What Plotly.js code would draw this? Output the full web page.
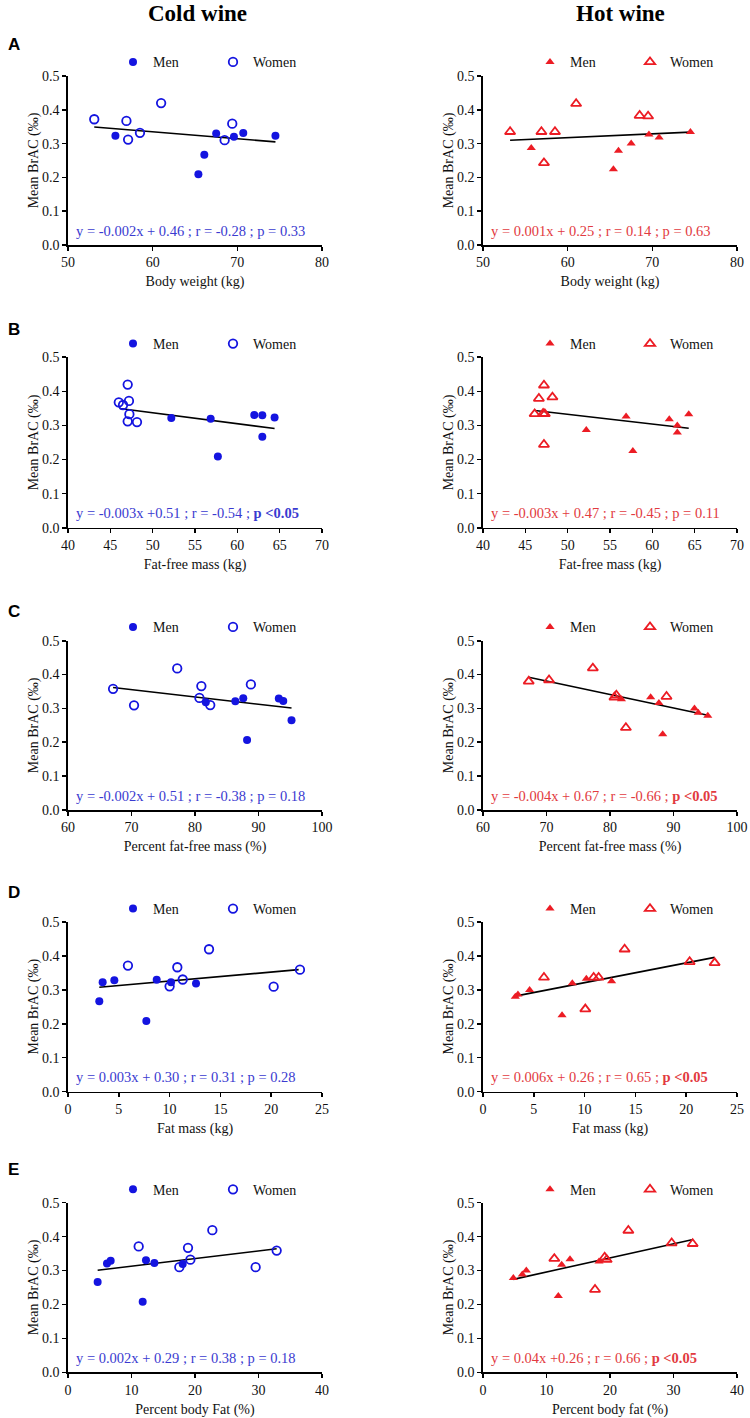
<!DOCTYPE html>
<html>
<head>
<meta charset="utf-8">
<script src="https://cdn.plot.ly/plotly-3.0.1.min.js"></script>
<style>html,body{margin:0;padding:0;background:#fff;} #chart{width:750px;height:1418px;}</style>
</head>
<body>
<div id="chart"></div>
<script>
// ---------- DATA ----------
// Panel A: body weight (kg)
const A_cold_men_x = [55.6, 65.4, 66.1, 67.5, 69.6, 70.7, 74.5];
const A_cold_men_y = [0.323, 0.209, 0.267, 0.330, 0.320, 0.331, 0.323];
const A_cold_wom_x = [53.1, 56.9, 57.1, 58.5, 61.0, 68.5, 69.4];
const A_cold_wom_y = [0.372, 0.367, 0.312, 0.332, 0.420, 0.310, 0.359];
const A_cold_fit_x = [53.1, 74.5];
const A_cold_fit_y = [0.349, 0.305];
const A_hot_men_x = [55.7, 65.4, 66.0, 67.5, 69.6, 70.8, 74.5];
const A_hot_men_y = [0.287, 0.224, 0.279, 0.300, 0.327, 0.318, 0.334];
const A_hot_wom_x = [53.2, 56.9, 57.2, 58.5, 61.0, 68.5, 69.5];
const A_hot_wom_y = [0.335, 0.335, 0.243, 0.335, 0.418, 0.383, 0.381];
const A_hot_fit_x = [53.2, 74.5];
const A_hot_fit_y = [0.310, 0.334];

// Panel B: fat-free mass (kg)
const B_cold_men_x = [52.2, 56.85, 57.7, 62.0, 62.95, 62.95, 64.4];
const B_cold_men_y = [0.322, 0.320, 0.209, 0.331, 0.330, 0.267, 0.323];
const B_cold_wom_x = [46.0, 46.5, 47.05, 47.2, 47.25, 47.05, 48.15];
const B_cold_wom_y = [0.368, 0.360, 0.420, 0.372, 0.333, 0.312, 0.310];
const B_cold_fit_x = [46.1, 64.4];
const B_cold_fit_y = [0.350, 0.291];
const B_hot_men_x = [52.2, 56.9, 57.7, 62.0, 62.95, 62.95, 64.3];
const B_hot_men_y = [0.287, 0.326, 0.225, 0.318, 0.300, 0.279, 0.333];
const B_hot_wom_x = [46.1, 46.6, 47.2, 47.3, 47.1, 47.2, 48.2];
const B_hot_wom_y = [0.334, 0.379, 0.418, 0.334, 0.335, 0.244, 0.383];
const B_hot_fit_x = [46.1, 64.3];
const B_hot_fit_y = [0.344, 0.292];

// Panel C: percent fat-free mass (%)
const C_cold_men_x = [81.7, 86.35, 87.6, 88.2, 93.2, 93.9, 95.2];
const C_cold_men_y = [0.318, 0.321, 0.330, 0.207, 0.329, 0.322, 0.265];
const C_cold_wom_x = [67.1, 70.4, 77.2, 80.7, 81.0, 82.4, 88.8];
const C_cold_wom_y = [0.358, 0.309, 0.418, 0.331, 0.366, 0.310, 0.371];
const C_cold_fit_x = [67.1, 95.2];
const C_cold_fit_y = [0.362, 0.301];
const C_hot_men_x = [81.8, 86.4, 87.7, 88.3, 93.3, 93.9, 95.4];
const C_hot_men_y = [0.327, 0.333, 0.316, 0.224, 0.300, 0.287, 0.278];
const C_hot_wom_x = [67.2, 70.4, 77.3, 80.7, 81.0, 82.5, 88.9];
const C_hot_wom_y = [0.380, 0.384, 0.419, 0.333, 0.339, 0.243, 0.335];
const C_hot_fit_x = [67.2, 95.4];
const C_hot_fit_y = [0.392, 0.280];

// Panel D: fat mass (kg)
const D_cold_men_x = [3.08, 3.41, 4.56, 7.71, 8.73, 10.14, 12.6];
const D_cold_men_y = [0.266, 0.322, 0.328, 0.208, 0.329, 0.322, 0.318];
const D_cold_wom_x = [5.9, 10.0, 10.76, 11.29, 13.88, 20.24, 22.83];
const D_cold_wom_y = [0.371, 0.310, 0.366, 0.330, 0.419, 0.309, 0.359];
const D_cold_fit_x = [3.08, 22.7];
const D_cold_fit_y = [0.307, 0.359];
const D_hot_men_x = [3.18, 3.44, 4.59, 7.78, 8.79, 10.17, 12.66];
const D_hot_men_y = [0.279, 0.286, 0.299, 0.225, 0.319, 0.332, 0.325];
const D_hot_wom_x = [6.0, 10.07, 10.89, 11.38, 13.94, 20.34, 22.8];
const D_hot_wom_y = [0.336, 0.243, 0.336, 0.336, 0.419, 0.382, 0.379];
const D_hot_fit_x = [3.18, 22.8];
const D_hot_fit_y = [0.281, 0.395];

// Panel E: percent body fat (%)
const E_cold_men_x = [4.67, 6.14, 6.72, 11.76, 12.28, 13.6, 18.06];
const E_cold_men_y = [0.266, 0.321, 0.329, 0.208, 0.330, 0.322, 0.319];
const E_cold_wom_x = [11.13, 17.53, 18.9, 19.27, 22.73, 29.55, 32.86];
const E_cold_wom_y = [0.371, 0.310, 0.367, 0.332, 0.419, 0.310, 0.359];
const E_cold_fit_x = [4.67, 32.86];
const E_cold_fit_y = [0.301, 0.364];
const E_hot_men_x = [4.78, 6.19, 6.82, 11.86, 12.39, 13.7, 18.27];
const E_hot_men_y = [0.278, 0.288, 0.300, 0.225, 0.317, 0.333, 0.327];
const E_hot_wom_x = [11.23, 17.64, 19.16, 19.48, 22.89, 29.71, 33.02];
const E_hot_wom_y = [0.335, 0.244, 0.339, 0.332, 0.418, 0.381, 0.379];
const E_hot_fit_x = [4.78, 32.9];
const E_hot_fit_y = [0.274, 0.391];

// Labels
const columnTitles = ["Cold wine", "Hot wine"];
const rowLetters = ["A", "B", "C", "D", "E"];
const xTitlesCold = ["Body weight (kg)", "Fat-free mass (kg)", "Percent fat-free mass (%)", "Fat mass (kg)", "Percent body Fat (%)"];
const xTitlesHot = ["Body weight (kg)", "Fat-free mass (kg)", "Percent fat-free mass (%)", "Fat mass (kg)", "Percent body fat (%)"];
const xRanges = [[50, 80], [40, 70], [60, 100], [0, 25], [0, 40]];
const xTickSteps = [10, 5, 10, 5, 10];
const yTitle = "Mean BrAC (‰)";
const legendLabels = ["Men", "Women"];
const eqCold = [
  "y = -0.002x + 0.46 ; r = -0.28 ; p = 0.33",
  "y = -0.003x +0.51 ; r = -0.54 ; <b>p &lt;0.05</b>",
  "y = -0.002x + 0.51 ; r = -0.38 ; p = 0.18",
  "y = 0.003x + 0.30 ; r = 0.31 ; p = 0.28",
  "y = 0.002x + 0.29 ; r = 0.38 ; p = 0.18"
];
const eqHot = [
  "y = 0.001x + 0.25 ; r = 0.14 ; p = 0.63",
  "y = -0.003x + 0.47 ; r = -0.45 ; p = 0.11",
  "y = -0.004x + 0.67 ; r = -0.66 ; <b>p &lt;0.05</b>",
  "y = 0.006x + 0.26 ; r = 0.65 ; <b>p &lt;0.05</b>",
  "y = 0.04x +0.26 ; r = 0.66 ; <b>p &lt;0.05</b>"
];

const panels = [
  [A_cold_men_x, A_cold_men_y, A_cold_wom_x, A_cold_wom_y, A_cold_fit_x, A_cold_fit_y, A_hot_men_x, A_hot_men_y, A_hot_wom_x, A_hot_wom_y, A_hot_fit_x, A_hot_fit_y],
  [B_cold_men_x, B_cold_men_y, B_cold_wom_x, B_cold_wom_y, B_cold_fit_x, B_cold_fit_y, B_hot_men_x, B_hot_men_y, B_hot_wom_x, B_hot_wom_y, B_hot_fit_x, B_hot_fit_y],
  [C_cold_men_x, C_cold_men_y, C_cold_wom_x, C_cold_wom_y, C_cold_fit_x, C_cold_fit_y, C_hot_men_x, C_hot_men_y, C_hot_wom_x, C_hot_wom_y, C_hot_fit_x, C_hot_fit_y],
  [D_cold_men_x, D_cold_men_y, D_cold_wom_x, D_cold_wom_y, D_cold_fit_x, D_cold_fit_y, D_hot_men_x, D_hot_men_y, D_hot_wom_x, D_hot_wom_y, D_hot_fit_x, D_hot_fit_y],
  [E_cold_men_x, E_cold_men_y, E_cold_wom_x, E_cold_wom_y, E_cold_fit_x, E_cold_fit_y, E_hot_men_x, E_hot_men_y, E_hot_wom_x, E_hot_wom_y, E_hot_fit_x, E_hot_fit_y]
];

// ---------- LAYOUT GEOMETRY ----------
const W = 750, H = 1418;
const colX = [[68, 322], [483, 737]];
const rowY = [[76, 245], [357.3, 527.7], [640.7, 810], [921.7, 1091.7], [1202.7, 1372.3]];
const legendY = [62.3, 344, 627.3, 909, 1189.7];
const letterY = [45, 330, 611.7, 892, 1169.7];

const BLUE = "#1414e0", BLUE_TXT = "#3a3ad0";
const RED = "#ec1c24", RED_TXT = "#e23a40";
const SERIF = "'Liberation Serif', 'Times New Roman', serif";

const px = v => v / W;
const py = v => 1 - v / H;

const traces = [];
const layout = {
  width: W, height: H,
  margin: {l: 0, r: 0, t: 0, b: 0},
  paper_bgcolor: "#fff", plot_bgcolor: "#fff",
  font: {family: SERIF, size: 14, color: "#111"},
  annotations: [],
  showlegend: true
};

let k = 0;
for (let r = 0; r < 5; r++) {
  for (let c = 0; c < 2; c++) {
    k++;
    const xa = k === 1 ? "x" : "x" + k;
    const ya = k === 1 ? "y" : "y" + k;
    const xk = k === 1 ? "xaxis" : "xaxis" + k;
    const yk = k === 1 ? "yaxis" : "yaxis" + k;
    const lg = k === 1 ? "legend" : "legend" + k;
    const d = panels[r];
    const o = c * 6;
    const col = c === 0 ? BLUE : RED;
    const symF = c === 0 ? "circle" : "triangle-up";
    const symO = c === 0 ? "circle-open" : "triangle-up-open";
    traces.push({
      x: d[o + 4], y: d[o + 5], xaxis: xa, yaxis: ya, mode: "lines",
      line: {color: "#000", width: 1.6}, showlegend: false, hoverinfo: "skip"
    });
    traces.push({
      x: d[o + 0], y: d[o + 1], xaxis: xa, yaxis: ya, mode: "markers", name: legendLabels[0],
      legend: lg, marker: {symbol: symF, color: col, size: 8}
    });
    traces.push({
      x: d[o + 2], y: d[o + 3], xaxis: xa, yaxis: ya, mode: "markers", name: legendLabels[1],
      legend: lg, marker: {symbol: symO, color: col, size: c === 0 ? 8.5 : 9, line: {width: 1.8, color: col}}
    });
    const axCommon = {
      showline: true, linecolor: "#000", linewidth: 1.6, ticks: "outside", ticklen: 4,
      tickwidth: 1.6, tickcolor: "#000", showgrid: false, zeroline: false, mirror: false,
      tickfont: {family: SERIF, size: 14, color: "#111"}, fixedrange: true
    };
    layout[xk] = Object.assign({}, axCommon, {
      domain: [px(colX[c][0]), px(colX[c][1])], anchor: ya,
      range: xRanges[r], dtick: xTickSteps[r], tick0: xRanges[r][0],
      title: {text: (c === 0 ? xTitlesCold : xTitlesHot)[r], font: {family: SERIF, size: 14, color: "#111"}, standoff: 7}
    });
    layout[yk] = Object.assign({}, axCommon, {
      domain: [py(rowY[r][1]), py(rowY[r][0])], anchor: xa,
      range: [0, 0.5], dtick: 0.1, tick0: 0, tickformat: ".1f",
      title: {text: yTitle, font: {family: SERIF, size: 14, color: "#111"}, standoff: 0}
    });
    layout[lg] = {
      orientation: "h", xref: "paper", yref: "paper",
      x: px(colX[c][0] + (c === 0 ? 45 : 47)), xanchor: "left",
      y: py(legendY[r]), yanchor: "middle",
      bgcolor: "rgba(0,0,0,0)", borderwidth: 0,
      entrywidth: 55, entrywidthmode: "pixels",
      font: {family: SERIF, size: 14, color: "#111"},
      itemclick: false, itemdoubleclick: false
    };
    layout.annotations.push({
      xref: xa + " domain", yref: ya + " domain", x: 0.022, y: 14.5 / (rowY[r][1] - rowY[r][0]),
      xanchor: "left", yanchor: "middle", showarrow: false, align: "left",
      text: (c === 0 ? eqCold : eqHot)[r],
      font: {family: SERIF, size: 14.5, color: c === 0 ? BLUE_TXT : RED_TXT}
    });
  }
  layout.annotations.push({
    xref: "paper", yref: "paper", x: px(6), y: py(letterY[r]), xanchor: "left", yanchor: "middle",
    showarrow: false, text: "<b>" + rowLetters[r] + "</b>",
    font: {family: "'Liberation Sans', Arial, sans-serif", size: 17, color: "#000"}
  });
}
// Column titles
layout.annotations.push({
  xref: "paper", yref: "paper", x: px(197.7), y: 1, xanchor: "center", yanchor: "top", borderpad: 0,
  showarrow: false, text: "<b>" + columnTitles[0] + "</b>", font: {family: SERIF, size: 23, color: "#000"}
});
layout.annotations.push({
  xref: "paper", yref: "paper", x: px(620.7), y: 1, xanchor: "center", yanchor: "top", borderpad: 0,
  showarrow: false, text: "<b>" + columnTitles[1] + "</b>", font: {family: SERIF, size: 23, color: "#000"}
});

Plotly.newPlot("chart", traces, layout, {displayModeBar: false, staticPlot: true});
</script>
</body>
</html>
